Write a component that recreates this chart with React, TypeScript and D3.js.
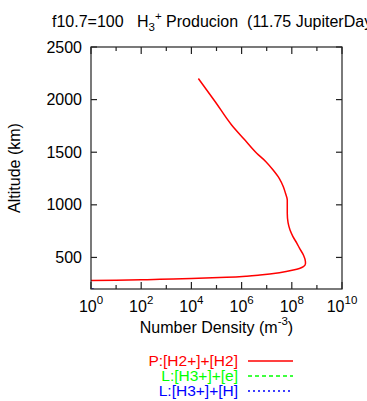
import React from 'react';
import * as d3 from 'd3';

// P:[H2+]+[H2] production profile
const prodAltitude = [280, 283, 287, 292, 300, 311, 322, 333, 355, 380, 395, 412, 440, 459, 523, 590, 634, 700, 760, 830, 919, 1000, 1046, 1110, 1172, 1250, 1331, 1410, 1490, 1620, 1759, 1980, 2200];
const prodDensity = [1, 10, 100, 560, 1e4, 2.5e5, 1.6e6, 5.4e6, 3.2e7, 1.15e8, 2.0e8, 2.9e8, 3.5e8, 3.5e8, 2.9e8, 2.0e8, 1.6e8, 1.1e8, 8.5e7, 7.1e7, 6.6e7, 6.6e7, 6.6e7, 5.6e7, 4.6e7, 3.2e7, 1.8e7, 9.3e6, 4.0e6, 1.3e6, 4.0e5, 8.9e4, 1.9e4];

// L:[H3+]+[e] has nothing inside the frame
const recombAltitude: number[] = [];
const recombDensity: number[] = [];

// L:[H3+]+[H] only a speck in the lower left corner
const hLossAltitude = [195, 203, 210];
const hLossDensity = [1.3, 1.1, 1.0];

const yTicks = [500, 1000, 1500, 2000, 2500];
const xExponents = [0, 2, 4, 6, 8, 10];
const xDecades = d3.range(0, 11);

const legendItems = [
  { label: 'P:[H2+]+[H2]', color: '#ff0000', dash: '' },
  { label: 'L:[H3+]+[e]', color: '#00ff00', dash: '4,3' },
  { label: 'L:[H3+]+[H]', color: '#0000ff', dash: '2,3' },
];

const W = 367;
const H = 401;
const margin = { left: 91, right: 25, top: 47, bottom: 112 };
const font = 'Liberation Sans, Arial, sans-serif';

export default function App() {
  const x = d3.scaleLog().domain([1, 1e10]).range([margin.left, W - margin.right]);
  const y = d3.scaleLinear().domain([200, 2500]).range([H - margin.bottom, margin.top]);

  // altitude rises monotonically, so a monotone-in-y curve keeps it smooth
  const line = d3
    .line<[number, number]>()
    .x((d) => x(d[0]))
    .y((d) => y(d[1]))
    .curve(d3.curveMonotoneY);

  const x0 = margin.left;
  const x1 = W - margin.right;
  const y0 = H - margin.bottom;
  const y1 = margin.top;

  const series = [
    { dens: prodDensity, alt: prodAltitude, item: legendItems[0] },
    { dens: recombDensity, alt: recombAltitude, item: legendItems[1] },
    { dens: hLossDensity, alt: hLossAltitude, item: legendItems[2] },
  ];

  return (
    <svg
      width={W}
      height={H}
      style={{ position: 'absolute', left: 0, top: 0, background: '#fff' }}
      fontFamily={font}
    >
      <defs>
        <clipPath id="plot">
          <rect x={x0} y={y1} width={x1 - x0} height={y0 - y1} />
        </clipPath>
      </defs>

      {/* title */}
      <text x={52} y={27} fontSize={16}>
        f10.7=100{'\u00a0\u00a0\u00a0'}H
        <tspan fontSize={11.5} dy={4}>3</tspan>
        <tspan fontSize={11.5} dy={-11}>+</tspan>
        <tspan dy={7}> Producion{'\u00a0\u00a0'}(11.75 JupiterDays)</tspan>
      </text>

      {/* curves */}
      <g clipPath="url(#plot)">
        {series.map((s, i) =>
          s.dens.length ? (
            <path
              key={i}
              d={line(s.dens.map((d, j) => [d, s.alt[j]]) as [number, number][]) || ''}
              fill="none"
              stroke={s.item.color}
              strokeWidth={1.5}
              strokeDasharray={s.item.dash}
            />
          ) : null
        )}
      </g>

      {/* frame */}
      <rect x={x0} y={y1} width={x1 - x0} height={y0 - y1} fill="none" stroke="#222" strokeWidth={1.2} />

      {/* x ticks, bottom and top */}
      {xDecades.map((e) => {
        const len = e % 2 === 0 ? 7 : 4;
        const px = x(Math.pow(10, e));
        return (
          <g key={e} stroke="#222" strokeWidth={1.2}>
            <line x1={px} x2={px} y1={y0} y2={y0 - len} />
            <line x1={px} x2={px} y1={y1} y2={y1 + len} />
          </g>
        );
      })}
      {xExponents.map((e) => (
        <text key={e} x={x(Math.pow(10, e))} y={312} fontSize={16} textAnchor="middle">
          10<tspan fontSize={11.5} dy={-8}>{e}</tspan>
        </text>
      ))}

      {/* y ticks */}
      {yTicks.map((t) => (
        <g key={t}>
          <line x1={x0} x2={x0 + 6} y1={y(t)} y2={y(t)} stroke="#222" strokeWidth={1.2} />
          <line x1={x1} x2={x1 - 6} y1={y(t)} y2={y(t)} stroke="#222" strokeWidth={1.2} />
          <text x={82} y={y(t) + 5.5} fontSize={16} textAnchor="end">
            {t}
          </text>
        </g>
      ))}

      {/* axis titles */}
      <text x={(x0 + x1) / 2} y={333} fontSize={16} textAnchor="middle">
        Number Density (m<tspan fontSize={11.5} dy={-8}>-3</tspan>
        <tspan dy={8}>)</tspan>
      </text>
      <text
        transform={`translate(20,${(y0 + y1) / 2}) rotate(-90)`}
        fontSize={16}
        textAnchor="middle"
      >
        Altitude (km)
      </text>

      {/* legend */}
      {legendItems.map((d, i) => (
        <g key={d.label}>
          <text x={238} y={366 + i * 15} fontSize={15.5} textAnchor="end" fill={d.color}>
            {d.label}
          </text>
          <line
            x1={248}
            x2={293}
            y1={361 + i * 15}
            y2={361 + i * 15}
            stroke={d.color}
            strokeWidth={1.5}
            strokeDasharray={d.dash}
          />
        </g>
      ))}
    </svg>
  );
}
